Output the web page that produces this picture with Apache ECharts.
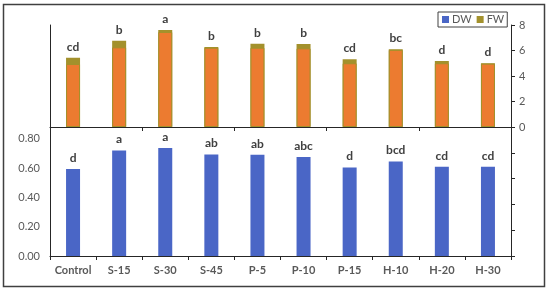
<!DOCTYPE html>
<html>
<head>
<meta charset="utf-8">
<script src="https://cdn.jsdelivr.net/npm/echarts@6/dist/echarts.min.js"></script>
<style>
html,body{margin:0;padding:0;background:#fff;}
#chart{width:550px;height:291px;}
</style>
</head>
<body>
<div id="chart"></div>
<script>
const categories = ['Control','S-15','S-30','S-45','P-5','P-10','P-15','H-10','H-20','H-30'];
const fwValues = [5.43, 6.77, 7.6, 6.27, 6.53, 6.51, 5.31, 6.09, 5.18, 5.0];
const fwOrange = [4.94, 6.25, 7.45, 6.22, 6.22, 6.17, 5.0, 6.05, 5.0, 4.97];
const dwValues = [0.593, 0.72, 0.736, 0.693, 0.69, 0.675, 0.604, 0.645, 0.609, 0.609];
const fwLetters = ['cd','b','a','b','b','b','cd','bc','d','d'];
const dwLetters = ['d','a','a','ab','ab','abc','d','bcd','cd','cd'];
const fwTicks = [0, 8, 2];      // min, max, interval
const dwTicks = [0, 0.88, 0.2]; // min, max, interval

const FONT = 'Lato';
const axisColor = '#262626';
const textColor = '#595959';

const chart = echarts.init(document.getElementById('chart'), null, {renderer:'canvas'});
const letterLabel = (arr) => ({
  show: true, position: 'top', distance: 5,
  fontFamily: FONT, fontWeight: 'bold', fontSize: 12, color: '#404040',
  formatter: p => arr[p.dataIndex]
});

chart.setOption({
  animation: false,
  textStyle: {fontFamily: FONT},
  graphic: [{
    type: 'rect', shape: {x: 3.5, y: 4.5, width: 541, height: 282},
    style: {fill: 'none', stroke: '#404040', lineWidth: 1.5}, silent: true
  }],
  legend: {
    data: ['DW', 'FW'],
    left: 438, top: 12, padding: [2, 3, 2, 4],
    borderColor: '#404040', borderWidth: 1,
    itemWidth: 7, itemHeight: 7, itemGap: 5,
    icon: 'rect',
    textStyle: {fontFamily: FONT, fontSize: 11, color: textColor, padding: [0, 0, 0, -2]}
  },
  grid: [
    {left: 50, right: 39, top: 25, height: 102},
    {left: 50, right: 39, top: 127, height: 129}
  ],
  xAxis: [
    {type: 'category', gridIndex: 0, data: categories,
     axisLine: {lineStyle: {color: axisColor, width: 1}},
     axisTick: {show: true, length: 4, lineStyle: {color: axisColor}},
     axisLabel: {show: false}},
    {type: 'category', gridIndex: 1, data: categories,
     axisLine: {lineStyle: {color: axisColor, width: 1}},
     axisTick: {show: true, length: 4, lineStyle: {color: axisColor}},
     axisLabel: {interval: 0, fontFamily: FONT, fontWeight: 'bold', fontSize: 11, color: textColor, margin: 9}}
  ],
  yAxis: [
    {type: 'value', gridIndex: 0, position: 'left', min: fwTicks[0], max: fwTicks[1], interval: fwTicks[2],
     axisLine: {show: true, lineStyle: {color: axisColor}}, axisTick: {show: false},
     axisLabel: {show: false}, splitLine: {show: false}},
    {type: 'value', gridIndex: 0, position: 'right', min: fwTicks[0], max: fwTicks[1], interval: fwTicks[2],
     axisLine: {show: true, lineStyle: {color: axisColor}},
     axisTick: {show: true, length: 4, lineStyle: {color: axisColor}},
     axisLabel: {fontFamily: FONT, fontSize: 11, color: textColor, margin: 8},
     splitLine: {show: false}},
    {type: 'value', gridIndex: 1, position: 'left', min: dwTicks[0], max: dwTicks[1], interval: dwTicks[2],
     axisLine: {show: true, lineStyle: {color: axisColor}}, axisTick: {show: false},
     axisLabel: {fontFamily: FONT, fontSize: 11, color: textColor, margin: 10, showMaxLabel: false,
                 formatter: v => v.toFixed(2)},
     splitLine: {show: false}},
    {type: 'value', gridIndex: 1, position: 'right', min: 0, max: 5, interval: 1,
     axisLine: {show: true, lineStyle: {color: axisColor}},
     axisTick: {show: true, length: 4, lineStyle: {color: axisColor}},
     axisLabel: {show: false}, splitLine: {show: false}}
  ],
  series: [
    {name: 'DW', type: 'bar', xAxisIndex: 1, yAxisIndex: 2, data: dwValues,
     barWidth: 14, itemStyle: {color: '#4a66c6'}, label: letterLabel(dwLetters)},
    {name: 'FW', type: 'bar', xAxisIndex: 0, yAxisIndex: 1, data: fwValues,
     barWidth: 14, itemStyle: {color: '#a3912c'}, label: letterLabel(fwLetters), z: 2},
    {name: 'FWinner', type: 'bar', xAxisIndex: 0, yAxisIndex: 1, data: fwOrange,
     barWidth: 14, barGap: '-100%',
     itemStyle: {color: '#ec7b30', borderColor: '#a3912c', borderWidth: 1}, z: 3}
  ]
});
</script>
</body>
</html>
